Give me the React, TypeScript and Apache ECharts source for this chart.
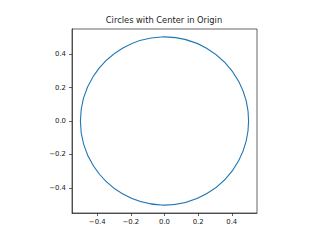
import React, { useEffect, useRef } from "react";
import * as echarts from "echarts";

const titleText = "Circles with Center in Origin";
const circleCenters: number[][] = [[0, 0]];
const circleRadii: number[] = [0.5];
const xTicks = [-0.4, -0.2, 0.0, 0.2, 0.4];
const yTicks = [-0.4, -0.2, 0.0, 0.2, 0.4];
const axisMin = -0.55;
const axisMax = 0.55;

const fmt = (v: number) => {
  const s = Math.abs(v) < 1e-9 ? "0.0" : v.toFixed(1);
  return s.replace("-", "\u2212");
};

export default function App() {
  const ref = useRef<HTMLDivElement>(null);
  useEffect(() => {
    if (!ref.current) return;
    const chart = echarts.init(ref.current, null, { renderer: "svg" });
    const axisCommon = {
      type: "value" as const,
      min: axisMin,
      max: axisMax,
      splitLine: { show: false },
      axisLine: { show: true, onZero: false, lineStyle: { color: "#222", width: 0.7 } },
      axisTick: { show: true, length: 3, lineStyle: { color: "#222", width: 0.7 } },
    };
    chart.setOption({
      animation: false,
      backgroundColor: "#ffffff",
      title: {
        text: titleText,
        left: 164,
        top: 16,
        textAlign: "center",
        padding: 0,
        textStyle: {
          fontFamily: "DejaVu Sans",
          fontSize: 8.3,
          fontWeight: "normal",
          color: "#222",
        },
      },
      grid: {
        left: 72,
        top: 29,
        width: 185,
        height: 184,
        show: true,
        borderColor: "#222",
        borderWidth: 0.7,
        containLabel: false,
      },
      xAxis: {
        ...axisCommon,
        axisTick: { ...axisCommon.axisTick, customValues: xTicks },
        axisLabel: {
          customValues: xTicks,
          formatter: (v: number) => fmt(v),
          fontFamily: "DejaVu Sans",
          fontSize: 6.9,
          color: "#222",
          margin: 5,
        },
      },
      yAxis: {
        ...axisCommon,
        axisTick: { ...axisCommon.axisTick, customValues: yTicks },
        axisLabel: {
          customValues: yTicks,
          formatter: (v: number) => fmt(v),
          fontFamily: "DejaVu Sans",
          fontSize: 6.9,
          color: "#222",
          margin: 6,
        },
      },
      series: [
        {
          type: "custom",
          data: circleCenters.map((c, i) => [c[0], c[1], circleRadii[i]]),
          renderItem: (_params: any, api: any) => {
            const cx = api.value(0);
            const cy = api.value(1);
            const r = api.value(2);
            const p = api.coord([cx, cy]);
            const sz = api.size([r, r]);
            return {
              type: "circle",
              shape: { cx: p[0], cy: p[1], r: sz[0] },
              style: { fill: "none", stroke: "#1f77b4", lineWidth: 1.1 },
            };
          },
          clip: false,
        },
      ],
    });
    return () => chart.dispose();
  }, []);
  return (
    <div
      ref={ref}
      style={{ position: "absolute", left: 0, top: 0, width: 320, height: 240, background: "#fff" }}
    />
  );
}
